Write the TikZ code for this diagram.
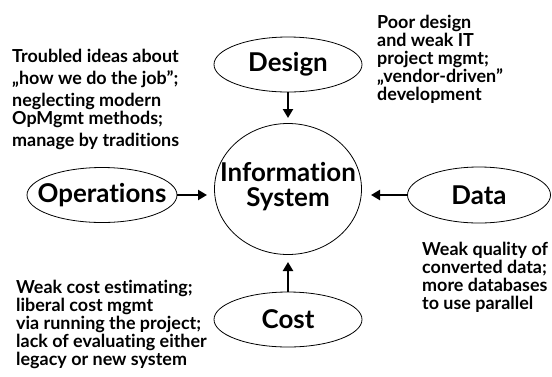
\documentclass[tikz,border=0pt]{standalone}
\usepackage{fontspec}
\setmainfont[Ligatures=NoCommon]{Lato}
\usetikzlibrary{shapes.geometric,arrows.meta}
\tikzset{
  blob/.style={draw, ellipse, line width=0.8bp, inner sep=0pt,
    minimum width=148bp, minimum height=55bp,
    label={[font=\fontsize{26}{26}\selectfont\bfseries]center:#1}},
  note/.style={anchor=base west, align=left, inner sep=0pt,
    font=\fontsize{18}{18}\selectfont\bfseries},
  push/.style={line width=2.2bp, -{Triangle[length=9bp,width=10bp]}}
}
\begin{document}
\begin{tikzpicture}[x=1bp,y=-1bp]
    \useasboundingbox (0,0) rectangle (552,376);
    % the system in the middle
    \node [draw, ellipse, line width=0.8bp, inner sep=0pt,
      minimum width=147bp, minimum height=131bp,
      label={[align=center, yshift=2bp, font=\fontsize{26}{25}\selectfont\bfseries]center:Information\\System}]
      (is) at (288,189) {};
    % the four sides
    \node [blob=Design] (design) at (288,64.5) {};
    \node [blob=Operations, minimum width=150bp] (ops) at (102,195) {};
    \node [blob=Data, minimum width=143bp, minimum height=56bp] (data) at (479,195) {};
    \node [blob=Cost] (cost) at (288,319.5) {};
    % arrow tips
    \coordinate (isN) at (288,118);
    \coordinate (isW) at (207,195);
    \coordinate (isE) at (371,195);
    \coordinate (isS) at (288,262);
    \draw [push] (design) -- (isN);
    \draw [push] (ops) -- (isW);
    \draw [push] (data) -- (isE);
    \draw [push] (cost) -- (isS);
    % notes, placed by the baseline of their last line
    \node [note] (habits) at (12,146) {Troubled ideas about\\[4bp]
      „how we do the job”;\\[4bp] neglecting modern\\
      OpMgmt methods;\\[4bp] manage by traditions};
    \node [note] (vendor) at (377,100) {Poor design\\ and weak IT\\
      project mgmt;\\ „vendor-driven”\\ development};
    \node [note] (budget) at (16,365) {Weak cost estimating;\\
      liberal cost mgmt\\ via running the project;\\
      lack of evaluating either\\ legacy or new system};
    \node [note] (quality) at (422,309) {Weak quality of\\
      converted data;\\ more databases\\ to use parallel};
\end{tikzpicture}
\end{document}
